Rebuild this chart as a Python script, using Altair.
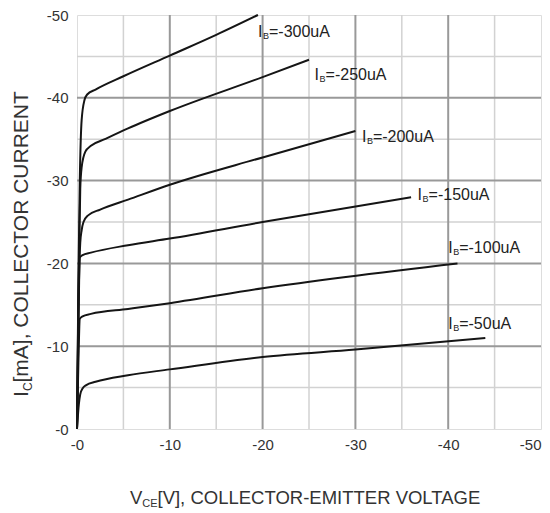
import altair as alt
import pandas as pd

# ---- data ----
v50 = [0, -0.2, -0.35, -0.6, -1, -2, -5.5, -10, -20, -30, -44]
i50 = [0, -3, -4.2, -4.9, -5.3, -5.7, -6.5, -7.2, -8.7, -9.6, -11.0]
v100 = [0, -0.15, -0.3, -0.6, -1.5, -5.5, -10, -20, -41]
i100 = [0, -8, -13.3, -13.6, -13.9, -14.5, -15.2, -17.0, -20.0]
v150 = [0, -0.15, -0.3, -0.6, -1.5, -5.5, -10, -20, -36]
i150 = [0, -12, -20.7, -21.0, -21.3, -22.2, -23.0, -25.0, -28.0]
v200 = [0, -0.15, -0.35, -0.5, -0.7, -1.2, -2.5, -5.5, -10, -20, -30]
i200 = [0, -14, -22.5, -24.0, -25.0, -25.8, -26.5, -27.7, -29.5, -32.8, -36.0]
v250 = [0, -0.15, -0.35, -0.5, -0.9, -1.5, -3, -5.5, -10, -20, -25]
i250 = [0, -16, -29, -31.6, -33.5, -34.2, -35.0, -36.3, -38.4, -42.5, -44.6]
v300 = [0, -0.15, -0.3, -0.5, -0.8, -1.1, -2, -5, -10, -15, -19.5]
i300 = [0, -18, -30, -37.3, -39.7, -40.4, -41.0, -42.6, -45.1, -47.6, -50]

series_names = ["-50uA", "-100uA", "-150uA", "-200uA", "-250uA", "-300uA"]
label_v = [-40, -40, -36.7, -30.7, -25.6, -19.5]
label_i = [-12.7, -21.9, -28.3, -35.3, -42.8, -47.9]

major_ticks = [0, -10, -20, -30, -40, -50]
minor_ticks = [-5, -15, -25, -35, -45]
major_grid = [-10, -20, -30, -40]

x_title = ["V", "CE", "[V], COLLECTOR-EMITTER VOLTAGE"]
y_title = ["I", "C", "[mA], COLLECTOR CURRENT"]

FONT = "Liberation Sans"

rows = []
for name, vs, is_ in zip(series_names,
                         [v50, v100, v150, v200, v250, v300],
                         [i50, i100, i150, i200, i250, i300]):
    for k, (v, i) in enumerate(zip(vs, is_)):
        rows.append({"ib": name, "v": v, "i": i, "k": k})
curves = pd.DataFrame(rows)
labels = pd.DataFrame({"v": label_v, "i": label_i, "txt": ["=" + s for s in series_names]})

xs = alt.Scale(domain=[0, -50], nice=False, zero=False)
ys = alt.Scale(domain=[0, -50], nice=False, zero=False)

minor_x = alt.Chart(pd.DataFrame({"g": minor_ticks})).mark_rule(color="#d2d2d2", strokeWidth=1.5).encode(
    x=alt.X("g:Q", scale=xs))
minor_y = alt.Chart(pd.DataFrame({"g": minor_ticks})).mark_rule(color="#d2d2d2", strokeWidth=1.5).encode(
    y=alt.Y("g:Q", scale=ys))
major_x = alt.Chart(pd.DataFrame({"g": major_grid})).mark_rule(color="#999999", strokeWidth=2).encode(
    x=alt.X("g:Q", scale=xs))
major_y = alt.Chart(pd.DataFrame({"g": major_grid})).mark_rule(color="#999999", strokeWidth=2).encode(
    y=alt.Y("g:Q", scale=ys))

lines = alt.Chart(curves).mark_line(color="#151515", strokeWidth=2, interpolate="monotone").encode(
    x=alt.X("v:Q", scale=xs,
            axis=alt.Axis(values=major_ticks, grid=False, ticks=False, tickSize=0, domain=False,
                          labelExpr="'-' + abs(datum.value)", labelFont=FONT, labelFontSize=15,
                          labelColor="#333333", labelPadding=8, title=None,
                          labelFlush=False,
                          labelAlign=alt.condition("datum.value == -50", alt.value("right"),
                                                   alt.value("center")))),
    y=alt.Y("i:Q", scale=ys,
            axis=alt.Axis(values=major_ticks, grid=False, ticks=False, tickSize=0, domain=False,
                          labelExpr="'-' + abs(datum.value)", labelFont=FONT, labelFontSize=15,
                          labelColor="#333333", labelPadding=9, title=None)),
    detail="ib:N",
    order="k:Q",
)

lab_base = alt.Chart(labels).encode(x=alt.X("v:Q", scale=xs), y=alt.Y("i:Q", scale=ys))
lab_i = lab_base.mark_text(text="I", font=FONT, fontSize=16, align="left", baseline="middle",
                           color="#222222")
lab_b = lab_base.mark_text(text="B", font=FONT, fontSize=9, align="left", baseline="middle",
                           dx=5, dy=4, color="#222222")
lab_t = lab_base.mark_text(font=FONT, fontSize=16, align="left", baseline="middle",
                           dx=11, color="#222222").encode(text="txt:N")

def title_piece(txt, x, y, dx, dy, size, angle=0):
    kw = dict(font=FONT, fontSize=size, align="left", baseline="alphabetic",
              dx=dx, dy=dy, color="#333333")
    if angle:
        kw["angle"] = angle
    return alt.Chart(pd.DataFrame({"t": [txt]})).mark_text(**kw).encode(
        text="t:N", x=alt.value(x), y=alt.value(y))

xt = [title_piece(x_title[0], 53, 489, 0, 0, 18.5),
      title_piece(x_title[1], 53, 489, 12.3, 3, 11),
      title_piece(x_title[2], 53, 489, 27.5, 0, 18.5)]
yt = [title_piece(y_title[0], -49.5, 382, 0, 0, 21, 270),
      title_piece(y_title[1], -49.5, 382, 6, 4, 12, 270),
      title_piece(y_title[2], -49.5, 382, 14.5, 0, 21, 270)]

chart = alt.layer(minor_x, minor_y, major_x, major_y, lines, lab_i, lab_b, lab_t, *xt, *yt).properties(
    width=464, height=414,
    autosize=alt.AutoSizeParams(type="none"),
    padding={"left": 69, "top": 7, "right": 1, "bottom": 90},
).configure_view(stroke="#444444", strokeWidth=2).configure(background="white")

chart.save("out.html", embed_options={"renderer": "svg", "actions": False})
